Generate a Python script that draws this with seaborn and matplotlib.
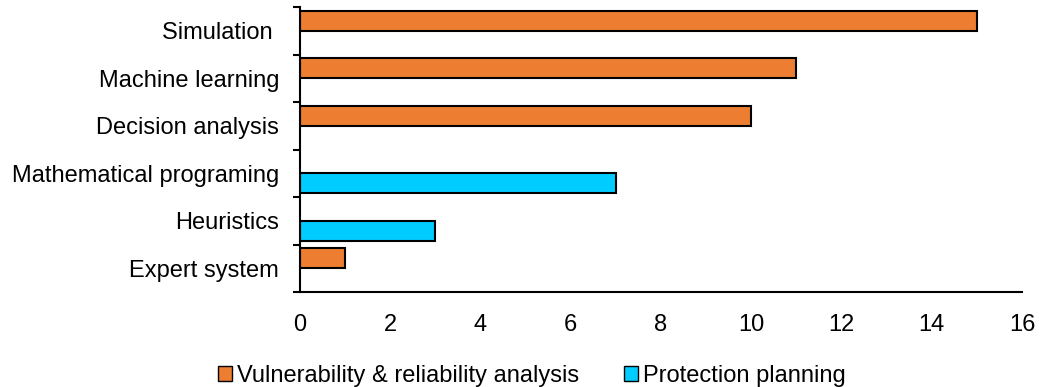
import pandas as pd
import numpy as np
import matplotlib
matplotlib.use("Agg")
import matplotlib.pyplot as plt
from matplotlib.patches import Patch
import seaborn as sns

# data
methods = ["Simulation ", "Machine learning", "Decision analysis",
           "Mathematical programing", "Heuristics", "Expert system"]
series = ["Vulnerability & reliability analysis", "Protection planning"]
vulnerability = [15, 11, 10, None, None, 1]
protection = [None, None, None, 7, 3, None]
colors = ["#ED7D31", "#00CCFF"]

rows = []
for m, v, p in zip(methods, vulnerability, protection):
    if v is not None:
        rows.append({"method": m, "series": series[0], "count": v})
    if p is not None:
        rows.append({"method": m, "series": series[1], "count": p})
df = pd.DataFrame(rows)

sns.set_style("white")
plt.rcParams["font.family"] = ["Liberation Sans", "DejaVu Sans"]
plt.rcParams["text.color"] = "black"

fig = plt.figure(figsize=(10.43, 3.87), dpi=100)
ax = fig.add_axes([0.2876, 0.245, 0.6924, 0.737])

sns.barplot(data=df, y="method", x="count", hue="series", order=methods,
            hue_order=series, palette=colors, saturation=1, orient="h", width=0.84,
            edgecolor="black", linewidth=1.5, dodge=True, legend=False, ax=ax)

ax.set_xlim(0, 16)
ax.set_ylim(len(methods) - 0.5, -0.5)
ax.set_xticks(range(0, 17, 2))
ax.set_xlabel("")
ax.set_ylabel("")

# boundary ticks between categories
ax.set_yticks(np.arange(-0.5, len(methods), 1.0), minor=True)
ax.tick_params(axis="y", which="minor", length=5, width=1.5, color="black", direction="out", left=True)
ax.tick_params(axis="y", which="major", length=0, pad=15, labelsize=17, labelcolor="black")
ax.tick_params(axis="x", which="major", length=0, pad=16, labelsize=17, labelcolor="black")

for s in ["top", "right"]:
    ax.spines[s].set_visible(False)
for s in ["left", "bottom"]:
    ax.spines[s].set_color("black")
    ax.spines[s].set_linewidth(1.5)

handles = [Patch(facecolor=c, edgecolor="black", linewidth=1.0) for c in colors]
fig.legend(handles, series, loc="lower center", bbox_to_anchor=(0.51, -0.055),
           ncol=2, frameon=False, fontsize=17, handlelength=0.6, handleheight=0.6,
           handletextpad=0.2, columnspacing=1.9)

fig.savefig("out.png", dpi=100)
